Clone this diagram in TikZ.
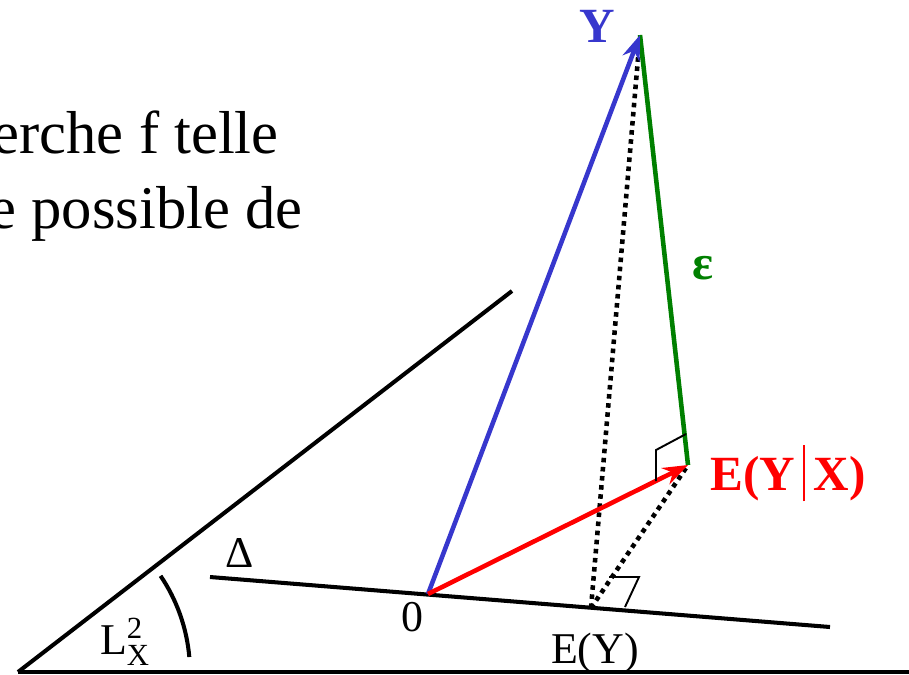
\documentclass[tikz,border=0pt]{standalone}
\usepackage{fontspec}
\setmainfont{Liberation Serif}
\usepackage{tikz}
\usetikzlibrary{arrows.meta,calc}

\definecolor{ycol}{RGB}{55,55,205}
\definecolor{ecol}{RGB}{0,128,0}

\begin{document}
\begin{tikzpicture}[
    x=0.02cm, y=-0.02cm,
    axis/.style={draw=black, line width=2.3pt},
    vec/.style={-{Stealth[length=5mm, width=3.6mm]}, line width=2.6pt},
    dots/.style={draw=black, line width=2.6pt, dash pattern=on 2.6pt off 2.6pt},
    rightangle/.style={draw=black, line width=1.1pt},
    bigtext/.style={font=\fontsize{34.5}{40}\selectfont, inner sep=0pt},
    vlabel/.style={font=\fontsize{28}{32}\selectfont\bfseries, inner sep=0pt},
    plabel/.style={font=\fontsize{25}{30}\selectfont, inner sep=0pt}
]
\useasboundingbox (0,0) rectangle (909,674);
% points
\coordinate (origin) at (18,672);
\coordinate (far) at (909,672);
\coordinate (ltop) at (512,291);
\coordinate (dleft) at (210,577);
\coordinate (dright) at (830,627);
\coordinate (zero) at (428,594);
\coordinate (ey) at (591,608);
\coordinate (y) at (640,35);
\coordinate (eyx) at (688,465);
% text
\node[bigtext, anchor=base east] (line1) at (279,153) {erche f telle};
\node[bigtext, anchor=base east] (line2) at (303,228) {e possible de};
% planes
\draw[axis] (origin) -- (far);
\draw[axis] (origin) -- (ltop);
\draw[axis] ([shift={(34:3.44cm)}]origin) arc[start angle=34, end angle=5, radius=3.44cm];
\draw[axis] (dleft) -- (dright);
% projections
\draw[dots] (ey) -- (y);
\draw[dots] (ey) -- (eyx);
\draw[ecol, line width=2.6pt] (eyx) -- (y);
\draw[vec, ycol] (zero) -- (y);
\draw[vec, red] (zero) -- (eyx);
% right angles
\draw[rightangle] (656,481) -- (656,450) -- (686,434);
\draw[rightangle] (609,577) -- (639,577) -- (625,607);
% labels
\node[vlabel, text=ycol] (ylabel) at (597,26) {Y};
\node[vlabel, text=red] (eyxlabel) at (788,473) {E(Y\,{\mdseries\rule[-0.22em]{1.1pt}{1.15em}}\,X)};
\node[vlabel, text=ecol] (epslabel) at (703,268) {ε};
\node[plabel] (deltalabel) at (240,553) {Δ};
\node[plabel] (zerolabel) at (412,617) {0};
\node[plabel] (eylabel) at (595,653) {E(Y)};
\node[plabel] (llabel) at (125,642) {L$^{\mathrm{2}}_{\mathrm{X}}$};
\end{tikzpicture}
\end{document}
